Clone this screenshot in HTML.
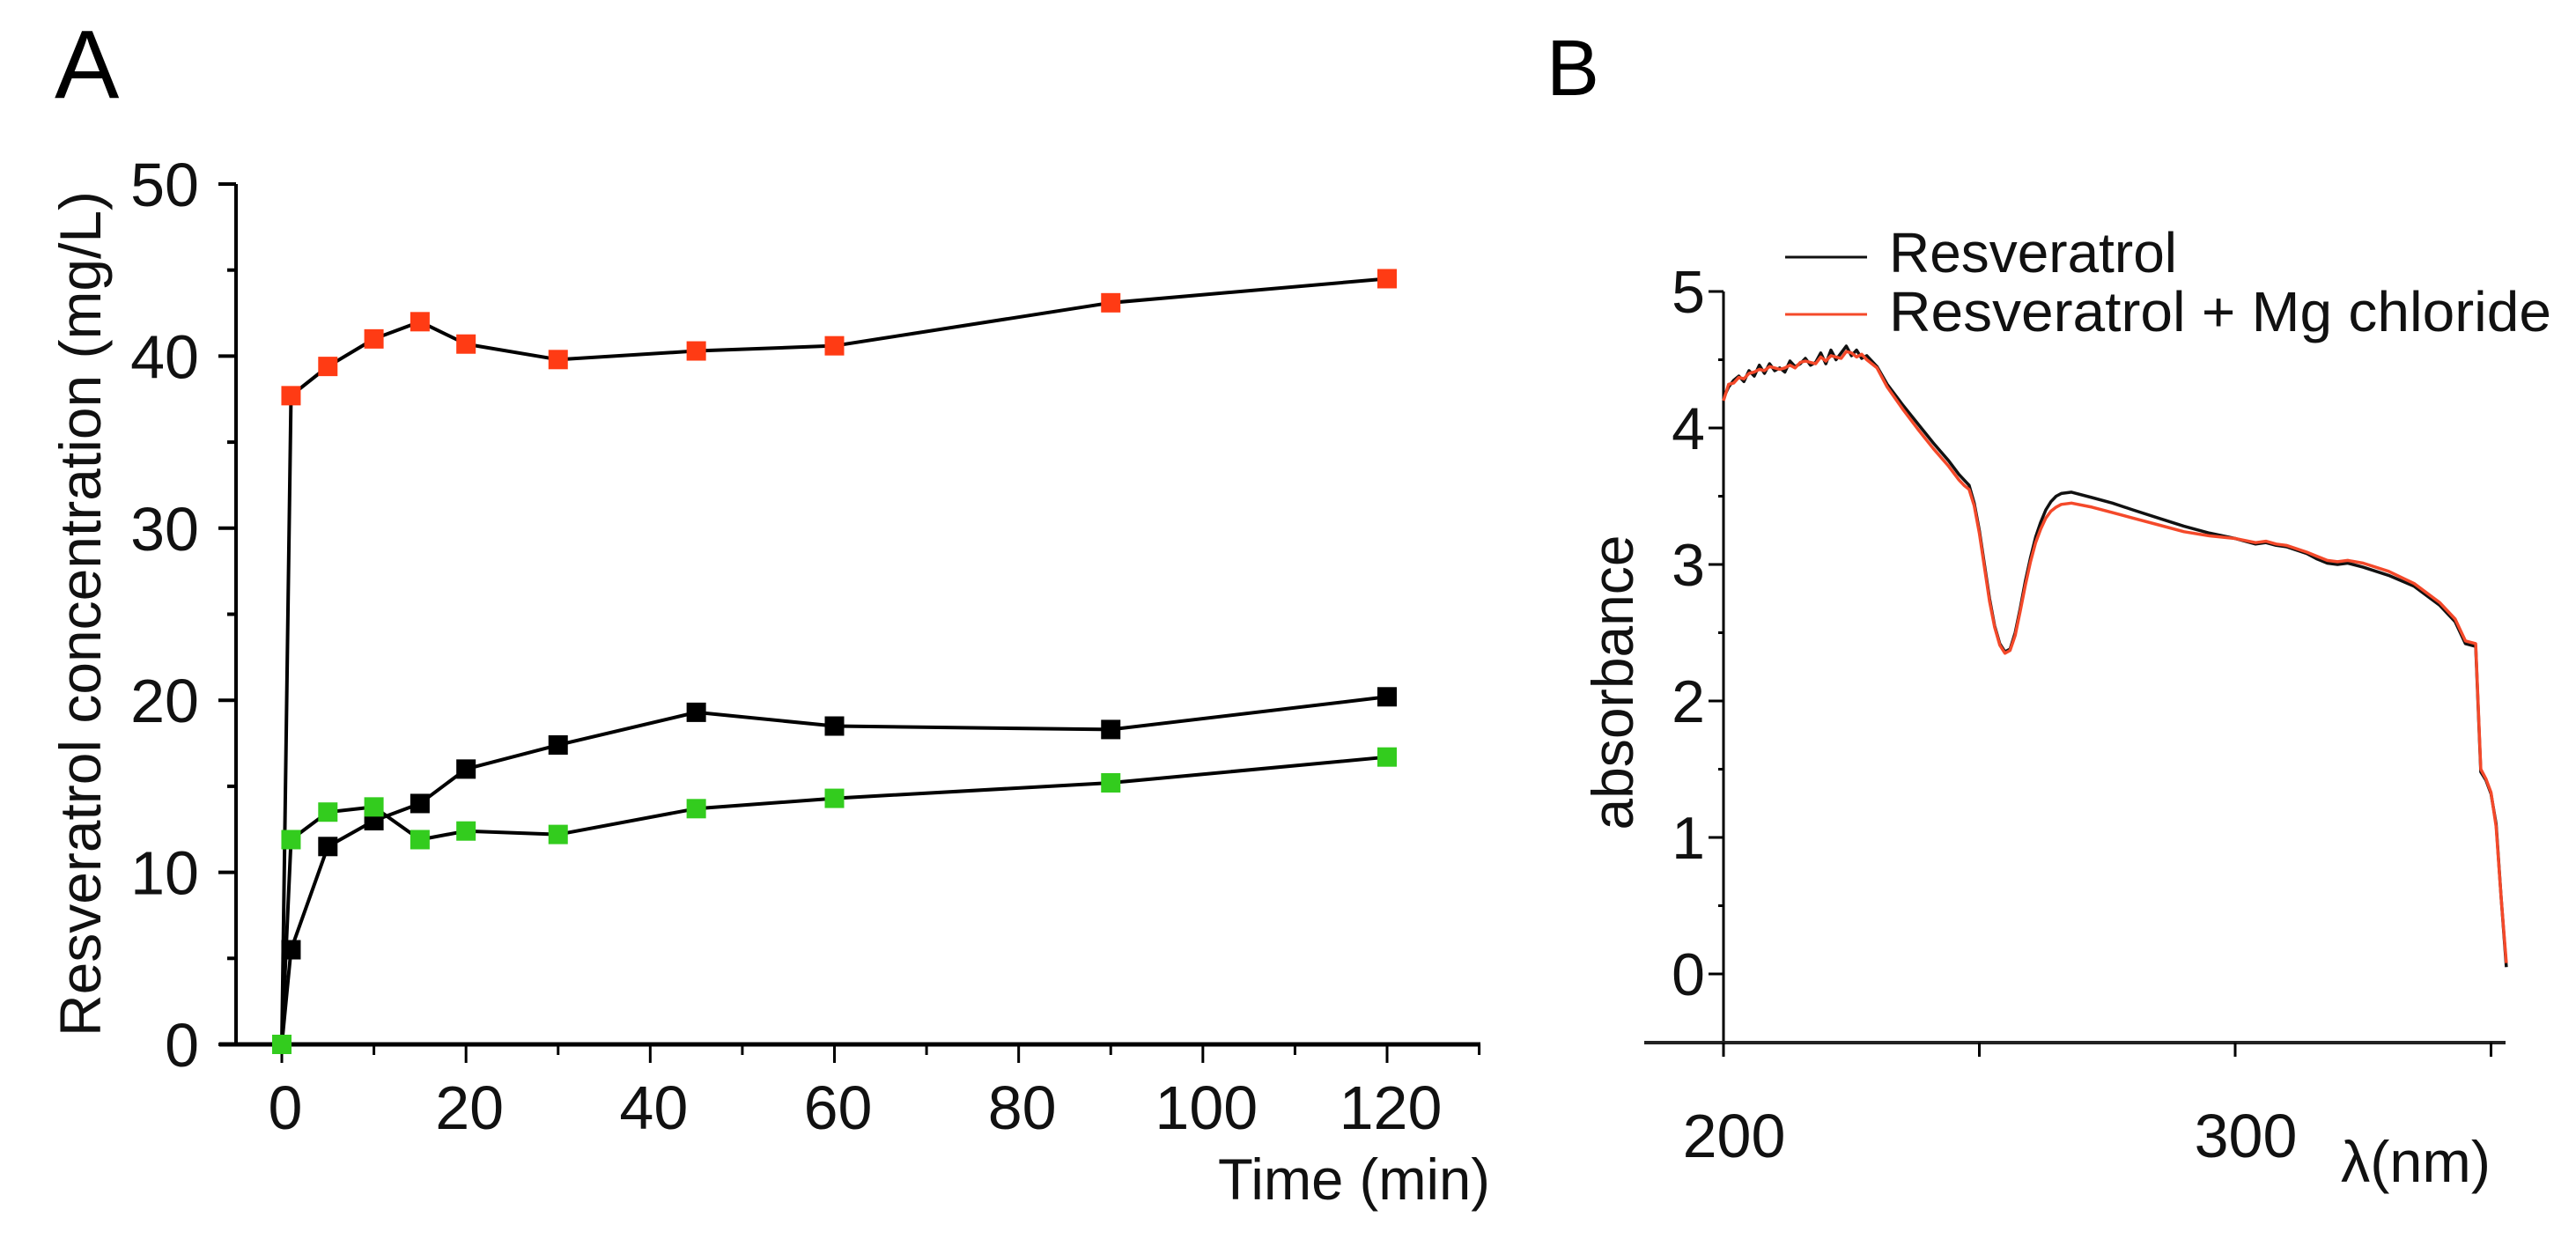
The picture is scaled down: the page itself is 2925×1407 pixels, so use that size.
<!DOCTYPE html>
<html><head><meta charset="utf-8"><style>
html,body{margin:0;padding:0;background:#fff;}
svg{display:block;font-family:"Liberation Sans",Arial,sans-serif;}
</style></head><body>
<svg id="fig" width="2925" height="1407" viewBox="0 0 2925 1407" xmlns="http://www.w3.org/2000/svg">
<rect width="2925" height="1407" fill="#fff"/>
<text x="62" y="111" font-size="110">A</text>
<text x="1756" y="108" font-size="90">B</text>
<g id="pa"></g>
<g id="pb"></g>
</svg>
<script>
// Panel A data
const timesA = [0,1,5,10,15,20,30,45,60,90,120];
const redA = [0,37.7,39.4,41.0,42.0,40.7,39.8,40.3,40.6,43.1,44.5];
const blackA = [0,5.5,11.5,13.0,14.0,16.0,17.4,19.3,18.5,18.3,20.2];
const greenA = [0,11.9,13.5,13.8,11.9,12.4,12.2,13.7,14.3,15.2,16.7];
const yTicksA = [0,10,20,30,40,50];
const xTicksA = [0,20,40,60,80,100,120];

// Panel B data
const wl = [200,201,202,203,204,205,206,207,208,209,210,211,212,213,214,215,216,217,218,219,220,221,222,223,224,225,226,227,228,230,232,235,238,241,244,246,247,248,249,250,251,252,253,254,255,256,257,258,259,260,261,262,263,264,265,266,268,272,276,280,285,290,295,300,304,306,308,310,314,316,318,320,322,325,330,335,340,343,345,347,348,349,350,351,352,353];
const absBlack = [4.22,4.30,4.35,4.38,4.34,4.42,4.38,4.46,4.40,4.47,4.42,4.44,4.41,4.49,4.45,4.47,4.51,4.46,4.48,4.55,4.47,4.57,4.50,4.55,4.60,4.53,4.57,4.51,4.53,4.45,4.32,4.17,4.03,3.89,3.76,3.66,3.62,3.58,3.45,3.25,3.00,2.75,2.55,2.42,2.36,2.38,2.50,2.68,2.88,3.05,3.20,3.31,3.40,3.46,3.50,3.52,3.53,3.49,3.45,3.40,3.34,3.28,3.23,3.19,3.15,3.16,3.14,3.13,3.08,3.04,3.01,3.00,3.01,2.98,2.92,2.84,2.70,2.58,2.42,2.40,1.48,1.42,1.32,1.10,0.55,0.05];
const absRed = [4.20,4.32,4.33,4.37,4.36,4.40,4.41,4.43,4.42,4.45,4.44,4.43,4.44,4.46,4.44,4.48,4.49,4.48,4.47,4.52,4.49,4.53,4.52,4.51,4.56,4.55,4.52,4.54,4.50,4.44,4.30,4.14,3.99,3.85,3.72,3.62,3.58,3.55,3.43,3.23,2.98,2.73,2.54,2.41,2.35,2.37,2.48,2.66,2.85,3.02,3.16,3.26,3.34,3.39,3.42,3.44,3.45,3.42,3.38,3.34,3.29,3.24,3.21,3.19,3.16,3.17,3.15,3.14,3.09,3.06,3.03,3.02,3.03,3.01,2.95,2.86,2.72,2.60,2.44,2.42,1.50,1.43,1.33,1.08,0.55,0.08];
const yTicksB = [0,1,2,3,4,5];
const xTicksB = [200,300];

const NS = "http://www.w3.org/2000/svg";
function mk(parent, tag, attrs, text){
  const e = document.createElementNS(NS, tag);
  for (const k in attrs) e.setAttribute(k, attrs[k]);
  if (text !== undefined) e.textContent = text;
  parent.appendChild(e);
  return e;
}

// ---------- Panel A ----------
const pa = document.getElementById('pa');
const xA = t => 320 + t * (1575 - 320) / 120;
const yA = v => 1186 - v * (1186 - 209) / 50;

let el;
el = mk(pa, 'line', {x1:268, y1:yA(50), x2:268, y2:1186, stroke:'#000', 'stroke-width':4});


el = mk(pa, 'line', {x1:249, y1:1186, x2:1681, y2:1186, stroke:'#000', 'stroke-width':5});



for (let v = 0; v <= 50; v += 5) {
  const major = v % 10 === 0;
  el = mk(pa, 'line', {x1: major ? 248 : 258, y1:yA(v), x2:268, y2:yA(v), stroke:'#000', 'stroke-width':4});
  
  
}
yTicksA.forEach(v => {
  el = mk(pa, 'text', {x:226, y:yA(v) + 25, 'font-size':70, 'text-anchor':'end', fill:'#111'}, String(v));
  
  
});
for (let t = 0; t <= 130; t += 10) {
  const major = t % 20 === 0;
  el = mk(pa, 'line', {x1:xA(t), y1:1186, x2:xA(t), y2: major ? 1207 : 1198, stroke:'#000', 'stroke-width':3});
  
  
}
xTicksA.forEach(t => {
  el = mk(pa, 'text', {x:xA(t) + 4, y:1282, 'font-size':70, 'text-anchor':'middle', fill:'#111'}, String(t));
  
  
});
el = mk(pa, 'text', {x:1692, y:1362, 'font-size':66, 'text-anchor':'end', fill:'#111', textLength:309, lengthAdjust:'spacingAndGlyphs'}, 'Time (min)');


el = mk(pa, 'text', {x:0, y:0, 'font-size':66, 'text-anchor':'middle', fill:'#111', transform:'translate(114,697) rotate(-90)', textLength:960, lengthAdjust:'spacingAndGlyphs'}, 'Resveratrol concentration (mg/L)');



function seriesA(vals, color, name) {
  const pts = timesA.map((t, i) => xA(t) + ',' + yA(vals[i])).join(' ');
  el = mk(pa, 'polyline', {points:pts, fill:'none', stroke:'#000', 'stroke-width':4, 'stroke-linejoin':'round'});
  
  
  timesA.forEach((t, i) => {
    el = mk(pa, 'rect', {x:xA(t) - 11, y:yA(vals[i]) - 11, width:22, height:22, fill:color});
    
    
  });
}
seriesA(blackA, '#000', 'black-series');
seriesA(redA, '#ff3b14', 'red-series');
seriesA(greenA, '#33cc1e', 'green-series');

// ---------- Panel B ----------
const pb = document.getElementById('pb');
const xB = w => 1957 + (w - 200) * (2538 - 1957) / 100;
const yB = v => 1106 - v * (1106 - 331) / 5;

el = mk(pb, 'line', {x1:1957, y1:yB(5), x2:1957, y2:1200, stroke:'#000', 'stroke-width':3});


el = mk(pb, 'line', {x1:1867, y1:1184, x2:2845, y2:1184, stroke:'#222', 'stroke-width':4});


for (let v = 0; v <= 5; v += 0.5) {
  const major = Math.abs(v - Math.round(v)) < 1e-9;
  el = mk(pb, 'line', {x1: major ? 1940 : 1951, y1:yB(v), x2:1957, y2:yB(v), stroke:'#000', 'stroke-width':3});
  
  
}
yTicksB.forEach(v => {
  el = mk(pb, 'text', {x:1936, y:yB(v) + 24, 'font-size':68, 'text-anchor':'end', fill:'#111'}, String(v));
  
  
});
for (let w = 200; w <= 350; w += 50) {
  el = mk(pb, 'line', {x1:xB(w), y1:1184, x2:xB(w), y2:1200, stroke:'#000', 'stroke-width':3});
  
  
}
xTicksB.forEach(w => {
  el = mk(pb, 'text', {x:xB(w) + 12, y:1314, 'font-size':70, 'text-anchor':'middle', fill:'#111'}, String(w));
  
  
});
el = mk(pb, 'text', {x:2658, y:1342, 'font-size':66, fill:'#111', textLength:170, lengthAdjust:'spacingAndGlyphs'}, 'λ(nm)');


el = mk(pb, 'text', {x:0, y:0, 'font-size':66, 'text-anchor':'middle', fill:'#111', transform:'translate(1854,775) rotate(-90)', textLength:335, lengthAdjust:'spacingAndGlyphs'}, 'absorbance');



function seriesB(vals, color, name) {
  const pts = wl.map((w, i) => xB(w).toFixed(1) + ',' + yB(vals[i]).toFixed(1)).join(' ');
  el = mk(pb, 'polyline', {points:pts, fill:'none', stroke:color, 'stroke-width':3.5, 'stroke-linejoin':'round'});
  
  
}
seriesB(absBlack, '#111', 'resveratrol-line');
seriesB(absRed, '#f4492a', 'resveratrol-mg-line');

el = mk(pb, 'line', {x1:2027, y1:292, x2:2120, y2:292, stroke:'#111', 'stroke-width':3});


el = mk(pb, 'line', {x1:2027, y1:357, x2:2120, y2:357, stroke:'#f4492a', 'stroke-width':3});


el = mk(pb, 'text', {x:2145, y:309, 'font-size':64, fill:'#111', textLength:327, lengthAdjust:'spacingAndGlyphs'}, 'Resveratrol');


el = mk(pb, 'text', {x:2145, y:376, 'font-size':64, fill:'#111', textLength:752, lengthAdjust:'spacingAndGlyphs'}, 'Resveratrol + Mg chloride');


</script>
</body></html>
